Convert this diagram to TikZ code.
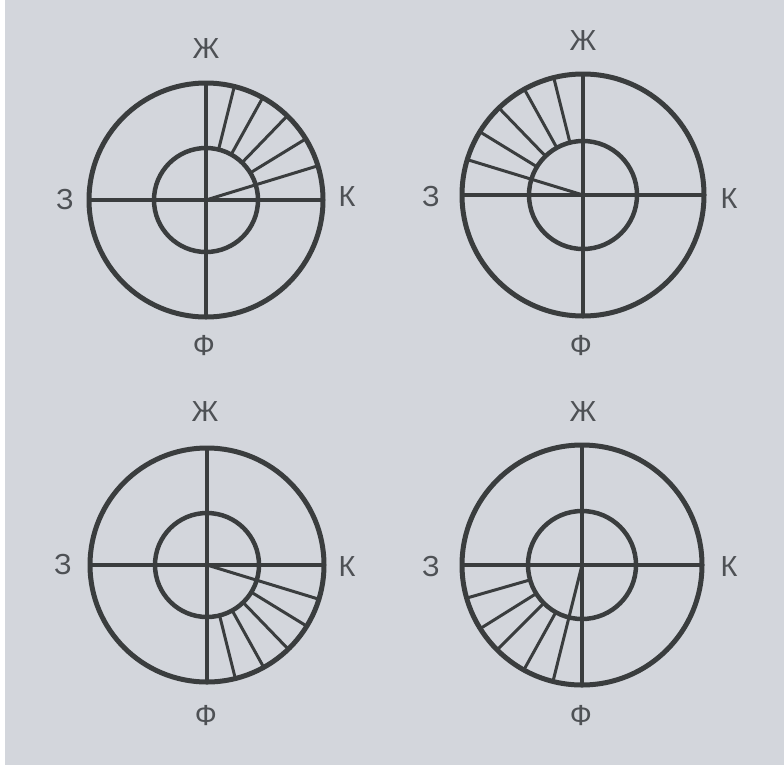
\documentclass[tikz,border=0pt]{standalone}
\usepackage{fontspec}
\setmainfont{Liberation Sans}
\definecolor{bg}{HTML}{D3D6DC}
\definecolor{ink}{HTML}{3A3D3E}
\definecolor{lab}{HTML}{4E5155}
\tikzset{
  outerring/.style={draw=ink, line width=5pt},
  innerring/.style={draw=ink, line width=4.5pt},
  crossline/.style={draw=ink, line width=4.5pt},
  hatchline/.style={draw=ink, line width=3pt},
  letter/.style={text=lab, inner sep=0pt, font=\fontsize{29}{30}\selectfont}
}
\begin{document}
\begin{tikzpicture}[x=1pt,y=-1pt]
\fill[white] (0,0) rectangle (784,772);
\fill[bg] (5,0) rectangle (784,765);
\useasboundingbox (0,0) rectangle (784,772);
\foreach \cx/\cy/\ro/\ri/\angs/\ca/\id in {
    206/200/117/52/{76,61,46,31.5}/17/a,
    583/195/121/54/{104,119,134,148.5}/163/b,
    207/565/117/52/{-31.5,-46,-61,-76}/-17/c,
    582/565/120/54/{196,212,225,241}/256/d}{
  \coordinate (c\id) at (\cx,\cy);
  \draw[outerring] (c\id) circle[radius=\ro];
  \draw[innerring] (c\id) circle[radius=\ri];
  \draw[crossline] (\cx,\cy-\ro) -- (\cx,\cy+\ro);
  \draw[crossline] (\cx-\ro,\cy) -- (\cx+\ro,\cy);
  \foreach \a in \angs {
    \draw[hatchline] ({\cx+\ri*cos(\a)},{\cy-\ri*sin(\a)}) -- ({\cx+\ro*cos(\a)},{\cy-\ro*sin(\a)});
  }
  \draw[hatchline] (c\id) -- ({\cx+\ro*cos(\ca)},{\cy-\ro*sin(\ca)});
}
% labels
\node[letter] (zh-a) at (206,49) {Ж};
\node[letter] (z-a) at (65,200) {З};
\node[letter] (k-a) at (347,197) {К};
\node[letter] (f-a) at (204,346) {Ф};
\node[letter] (zh-b) at (583,41) {Ж};
\node[letter] (z-b) at (431,197) {З};
\node[letter] (k-b) at (729,199) {К};
\node[letter] (f-b) at (581,346) {Ф};
\node[letter] (zh-c) at (205,412) {Ж};
\node[letter] (z-c) at (63,565) {З};
\node[letter] (k-c) at (347,567) {К};
\node[letter] (f-c) at (206,716) {Ф};
\node[letter] (zh-d) at (583,412) {Ж};
\node[letter] (z-d) at (431,567) {З};
\node[letter] (k-d) at (729,567) {К};
\node[letter] (f-d) at (581,716) {Ф};
\end{tikzpicture}
\end{document}
